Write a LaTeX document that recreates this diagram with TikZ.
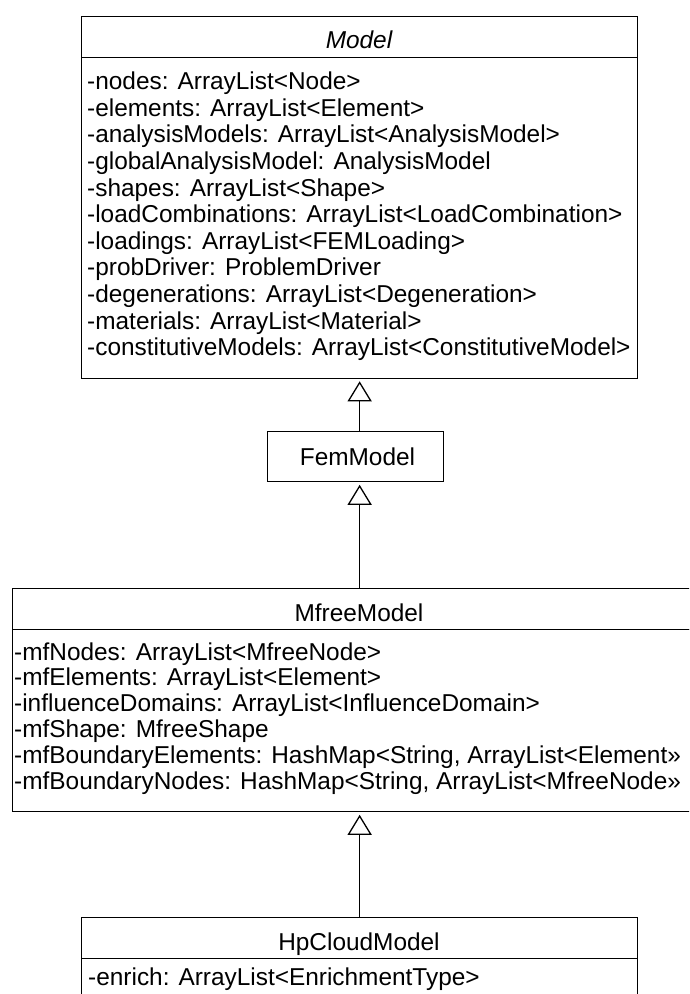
\documentclass[tikz,border=0pt]{standalone}
\usepackage{fontspec}
\setmainfont{Liberation Sans}
\usetikzlibrary{arrows.meta}
\newcommand{\umlfont}{\fontsize{24.4}{28}\selectfont}
\tikzset{
  umlbox/.style={draw=black, line width=1.3pt, fill=white, rectangle, inner sep=0pt, anchor=north west},
  classname/.style={anchor=base, inner sep=0pt, font=\umlfont},
  member/.style={anchor=base west, inner sep=0pt, font=\umlfont},
  inherits/.style={draw=black, line width=1.3pt,
    -{Triangle[open, length=20pt, width=24pt, line width=1.3pt]}, shorten >=2.5pt},
}
\begin{document}
\begin{tikzpicture}[x=1pt, y=-1pt]
\useasboundingbox (0,0) rectangle (689,994);
\clip (0,0) rectangle (689,994);

% abstract base class Model
\node[umlbox, minimum width=556pt, minimum height=41pt] (modelhead) at (81,15.5) {};
\node[umlbox, minimum width=556pt, minimum height=321pt] (modelbody) at (81,56.5) {};
\node[classname, font=\umlfont\itshape] (modelname) at (359,48.5) {Model};
\foreach \txt [count=\i from 0] in {
  -nodes: ArrayList<Node>,
  -elements: ArrayList<Element>,
  -analysisModels: ArrayList<AnalysisModel>,
  -globalAnalysisModel: AnalysisModel,
  -shapes: ArrayList<Shape>,
  -loadCombinations: ArrayList<LoadCombination>,
  -loadings: ArrayList<FEMLoading>,
  -probDriver: ProblemDriver,
  -degenerations: ArrayList<Degeneration>,
  -materials: ArrayList<Material>,
  -constitutiveModels: ArrayList<ConstitutiveModel>}
  \node[member] (modelattr\i) at (87, 89.6+26.6*\i) {\txt};

% FemModel
\node[umlbox, minimum width=176pt, minimum height=50pt] (fem) at (267,431) {};
\node[classname] (femname) at (357.5,465) {FemModel};

% MfreeModel
\node[umlbox, minimum width=694pt, minimum height=41pt] (mfreehead) at (12,588) {};
\node[umlbox, minimum width=694pt, minimum height=182pt] (mfreebody) at (12,629) {};
\node[classname] (mfreename) at (359,621) {MfreeModel};
\foreach \txt [count=\i from 0] in {
  -mfNodes: ArrayList<MfreeNode>,
  -mfElements: ArrayList<Element>,
  -influenceDomains: ArrayList<InfluenceDomain>,
  -mfShape: MfreeShape,
  {-mfBoundaryElements: HashMap<String, ArrayList<Element»},
  {-mfBoundaryNodes: HashMap<String, ArrayList<MfreeNode»}}
  \node[member] (mfreeattr\i) at (14, 660+25.8*\i) {\txt};

% HpCloudModel
\node[umlbox, minimum width=556pt, minimum height=41pt] (hphead) at (81,917) {};
\node[umlbox, minimum width=556pt, minimum height=60pt] (hpbody) at (81,958) {};
\node[classname] (hpname) at (359,950) {HpCloudModel};
\node[member] (hpattr0) at (88,985) {-enrich: ArrayList<EnrichmentType>};

% generalisation arrows
\draw[inherits] (fem.north -| modelbody.south) -- (modelbody.south);
\draw[inherits] (mfreehead.north) -- (fem.south -| mfreehead.north);
\draw[inherits] (hphead.north) -- (mfreebody.south);
\end{tikzpicture}
\end{document}
